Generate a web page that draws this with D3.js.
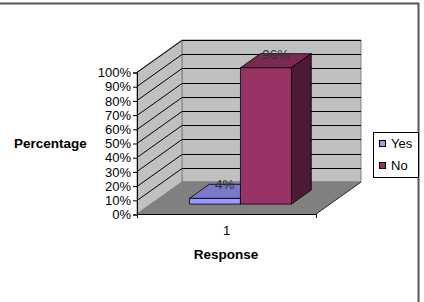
<!DOCTYPE html>
<html>
<head>
<meta charset="utf-8">
<script src="https://cdn.jsdelivr.net/npm/d3@7"></script>
<style>
  body { margin: 0; background: #fff; }
  text { font-family: "Liberation Sans", Arial, sans-serif; }
</style>
</head>
<body>
<div id="chart"></div>
<script>
// data
var categories = ["1"];
var seriesNames = ["Yes", "No"];
var yesValues = [0.04];
var noValues = [0.96];
var yTickValues = [0, 0.1, 0.2, 0.3, 0.4, 0.5, 0.6, 0.7, 0.8, 0.9, 1];

var width = 424, height = 302;
var colors = {Yes: ["#9999ff", "#7a7acc", "#5c5c99"], No: ["#993366", "#7a2952", "#4d1a33"]};

var svg = d3.select("#chart").append("svg")
    .attr("width", width).attr("height", height);

// outer frame
svg.append("line").attr("x1", 0).attr("x2", 419).attr("y1", 3.5).attr("y2", 3.5)
    .attr("stroke", "#555").attr("stroke-width", 2);
svg.append("line").attr("x1", 418.5).attr("x2", 418.5).attr("y1", 3).attr("y2", height)
    .attr("stroke", "#555").attr("stroke-width", 2);

// front plane scales + depth
var depthX = 45, depthY = -32;
var xScale = d3.scaleBand().domain(categories).range([137, 316]).padding(0.274);
var xSub = d3.scaleBand().domain(seriesNames).range([0, xScale.bandwidth()]);
var yScale = d3.scaleLinear().domain([0, 1]).range([214, 72]);

function P(x, y, d) { return [x + d * depthX, y + d * depthY]; }
function poly(pts) { return pts.map(function(p) { return p.join(","); }).join(" "); }

var x0 = xScale.range()[0], x1 = xScale.range()[1];

// back wall
svg.append("polygon")
    .attr("points", poly([P(x0, yScale(0), 1), P(x1, yScale(0), 1), P(x1, yScale(1), 1), P(x0, yScale(1), 1)]))
    .attr("fill", "#c0c0c0").attr("stroke", "#808080");
// side wall
svg.append("polygon")
    .attr("points", poly([P(x0, yScale(0), 0), P(x0, yScale(0), 1), P(x0, yScale(1), 1), P(x0, yScale(1), 0)]))
    .attr("fill", "#c0c0c0").attr("stroke", "#808080");
// floor
svg.append("polygon")
    .attr("points", poly([P(x0, yScale(0), 0), P(x1, yScale(0), 0), P(x1, yScale(0), 1), P(x0, yScale(0), 1)]))
    .attr("fill", "#808080").attr("stroke", "#808080");
svg.append("line")
    .attr("x1", P(x1, yScale(0), 0)[0]).attr("y1", P(x1, yScale(0), 0)[1])
    .attr("x2", P(x1, yScale(0), 1)[0]).attr("y2", P(x1, yScale(0), 1)[1])
    .attr("stroke", "#333");

// gridlines
var grid = svg.append("g").attr("stroke", "#000").attr("fill", "none");
yTickValues.forEach(function(v) {
    if (v === 0) return;
    var y = Math.round(yScale(v)) + 0.5;
    grid.append("polyline")
        .attr("points", poly([P(x0, y, 0), P(x0, y, 1), P(x1, y, 1)]));
});

// y axis
svg.append("g")
    .attr("transform", "translate(" + x0 + ",0.5)")
    .call(d3.axisLeft(yScale).tickValues(yTickValues).tickFormat(d3.format(".0%")).tickSizeOuter(0).tickSize(4).tickPadding(2))
    .call(function(g) {
        g.selectAll("text").attr("font-size", 13).attr("fill", "#000")
            .attr("font-family", "Liberation Sans, Arial, sans-serif");
        g.select(".domain").attr("stroke", "#000");
    });

// x axis
svg.append("g")
    .attr("transform", "translate(0," + yScale(0) + ")")
    .call(d3.axisBottom(xScale).tickSize(0).tickPadding(12).tickSizeOuter(4))
    .call(function(g) {
        g.selectAll("text").attr("font-size", 13).attr("fill", "#000")
            .attr("font-family", "Liberation Sans, Arial, sans-serif");
        g.select(".domain").attr("stroke", "#000");
    });

// bars
var d0 = 0.31, d1 = 0.75;
var barData = [];
categories.forEach(function(c, i) {
    barData.push({cat: c, key: "Yes", value: yesValues[i]});
    barData.push({cat: c, key: "No", value: noValues[i]});
});

var bars = svg.append("g").selectAll("g").data(barData).enter().append("g");
bars.each(function(d) {
    var g = d3.select(this);
    var bx0 = xScale(d.cat) + xSub(d.key), bx1 = bx0 + xSub.bandwidth();
    var yb = yScale(0), yt = yScale(d.value);
    var c = colors[d.key];
    // top
    g.append("polygon")
        .attr("points", poly([P(bx0, yt, d0), P(bx1, yt, d0), P(bx1, yt, d1), P(bx0, yt, d1)]))
        .attr("fill", c[1]).attr("stroke", "#000").attr("stroke-width", 0.8);
    // side
    g.append("polygon")
        .attr("points", poly([P(bx1, yb, d0), P(bx1, yb, d1), P(bx1, yt, d1), P(bx1, yt, d0)]))
        .attr("fill", c[2]).attr("stroke", "#000").attr("stroke-width", 0.8);
    // front
    g.append("polygon")
        .attr("points", poly([P(bx0, yb, d0), P(bx1, yb, d0), P(bx1, yt, d0), P(bx0, yt, d0)]))
        .attr("fill", c[0]).attr("stroke", "#000").attr("stroke-width", 0.8);
    // value label
    var mid = P((bx0 + bx1) / 2, yt, (d0 + d1) / 2);
    g.append("text")
        .attr("x", mid[0]).attr("y", mid[1] - 2)
        .attr("text-anchor", "middle").attr("font-size", 13.5).attr("fill", "#333")
        .text(d3.format(".0%")(d.value));
});

// axis titles
svg.append("text").attr("x", 14).attr("y", 148)
    .attr("font-size", 13.5).attr("font-weight", "bold").text("Percentage");
svg.append("text").attr("x", 226).attr("y", 259).attr("text-anchor", "middle")
    .attr("font-size", 13.5).attr("font-weight", "bold").text("Response");

// legend
var legend = svg.append("g").attr("transform", "translate(373,132)");
legend.append("rect").attr("x", 0.5).attr("y", 0.5).attr("width", 45).attr("height", 45)
    .attr("fill", "#fff").attr("stroke", "#000");
seriesNames.forEach(function(s, i) {
    legend.append("rect").attr("x", 6.5).attr("y", 8.5 + i * 22).attr("width", 6).attr("height", 6)
        .attr("fill", colors[s][0]).attr("stroke", "#000");
    legend.append("text").attr("x", 18).attr("y", 16 + i * 22)
        .attr("font-size", 13).text(s);
});
</script>
</body>
</html>
